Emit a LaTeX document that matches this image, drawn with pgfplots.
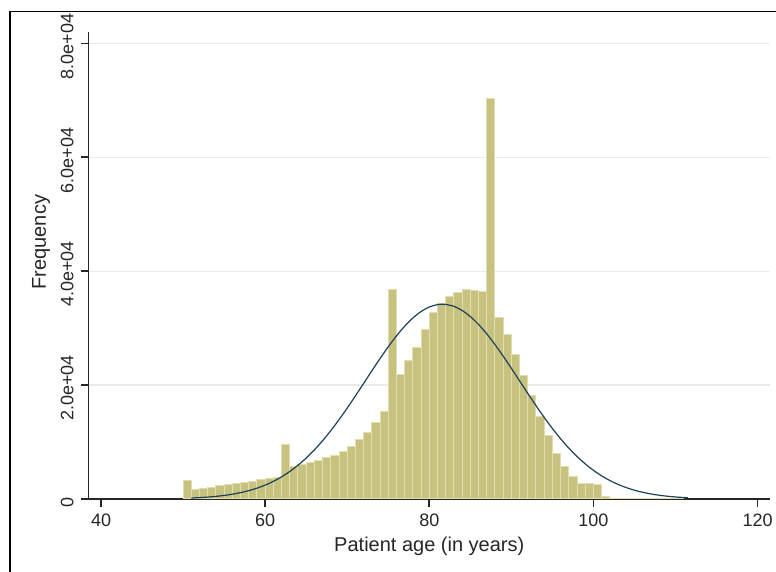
\documentclass[border=0pt]{standalone}
\usepackage{pgfplots}
\pgfplotsset{compat=1.18}
\usepackage{fontspec}
\setmainfont{Liberation Sans}
\definecolor{barfill}{RGB}{200,194,128}
\definecolor{barline}{RGB}{226,221,172}
\definecolor{curvec}{RGB}{28,66,88}
\definecolor{gridc}{RGB}{234,234,234}
\begin{document}
\begin{tikzpicture}
\path[use as bounding box] (0,0) rectangle (388pt,286pt);
\draw[line width=0.7pt] (5pt,-1pt) -- (5pt,280.2pt) -- (389pt,280.2pt);
\begin{axis}[
 at={(44.35pt,36.5pt)}, anchor=south west,
 scale only axis, width=340.6pt, height=233.5pt,
 xmin=38.5, xmax=121.5, ymin=0, ymax=82000,
 axis lines=left, axis line style={-, line width=0.8pt, black!85},
 tick align=outside, major tick length=4pt,
 tick style={line width=0.8pt, black!85},
 scaled y ticks=false, scaled x ticks=false,
 xtick={40,60,80,100,120}, xticklabels={40,60,80,100,120},
 ytick={0,20000,40000,60000,80000},
 yticklabels={0,2.0e+04,4.0e+04,6.0e+04,8.0e+04},
 ymajorgrids, grid style={gridc, line width=0.6pt},
 ticklabel style={font=\fontsize{9}{10}\selectfont, text=black!85},
 yticklabel style={rotate=90, anchor=south, xshift=-1.5pt},
 xlabel={Patient age (in years)}, ylabel={Frequency},
 label style={font=\fontsize{10}{12}\selectfont, text=black!85},
 xlabel style={at={(axis description cs:0.5,-0.1006)}, anchor=center},
 ylabel style={at={(axis description cs:-0.07,0.55)}, anchor=center},
]
\addplot[ybar interval, fill=barfill, draw=barline, line width=0.5pt] coordinates {
(50,3200) (51,1600) (52,1800) (53,2100) (54,2300) (55,2500) (56,2700) (57,2900)
(58,3100) (59,3350) (60,3600) (61,3800) (62,9600) (63,5700) (64,6000) (65,6400)
(66,6800) (67,7200) (68,7600) (69,8300) (70,9300) (71,10400) (72,11700) (73,13400)
(74,15300) (75,36700) (76,21800) (77,24300) (78,26600) (79,29800) (80,32700)
(81,34300) (82,35600) (83,36300) (84,36800) (85,36600) (86,36400) (87,70300)
(88,31800) (89,28900) (90,25400) (91,21600) (92,18100) (93,14400) (94,11100)
(95,8000) (96,5700) (97,3900) (98,2800) (99,2700) (100,2600) (101,500) (102,150)
(103,60) (104,30) (105,20) (106,10) (107,10) (108,10) (109,10) (110,10) (111,0)
};
\addplot[curvec, line width=0.6pt, smooth] coordinates {
(51,171) (52,240) (53,334) (54,459) (55,624) (56,839) (57,1114) (58,1463)
(59,1900) (60,2441) (61,3099) (62,3889) (63,4829) (64,5928) (65,7192) (66,8629)
(67,10239) (68,12008) (69,13927) (70,15972) (71,18109) (72,20301) (73,22504)
(74,24665) (75,26727) (76,28639) (77,30342) (78,31782) (79,32917) (80,33708)
(81,34132) (81.6,34200) (82,34169) (83,33824) (84,33103) (85,32035) (86,30650)
(87,28998) (88,27124) (89,25086) (90,22941) (91,20743) (92,18547) (93,16392)
(94,14326) (95,12380) (96,10578) (97,8936) (98,7466) (99,6166) (100,5034)
(101,4066) (102,3246) (103,2562) (104,1999) (105,1543) (106,1177) (107,888)
(108,662) (109,489) (110,356) (111,257) (111.5,217)
};
\end{axis}
\end{tikzpicture}
\end{document}
